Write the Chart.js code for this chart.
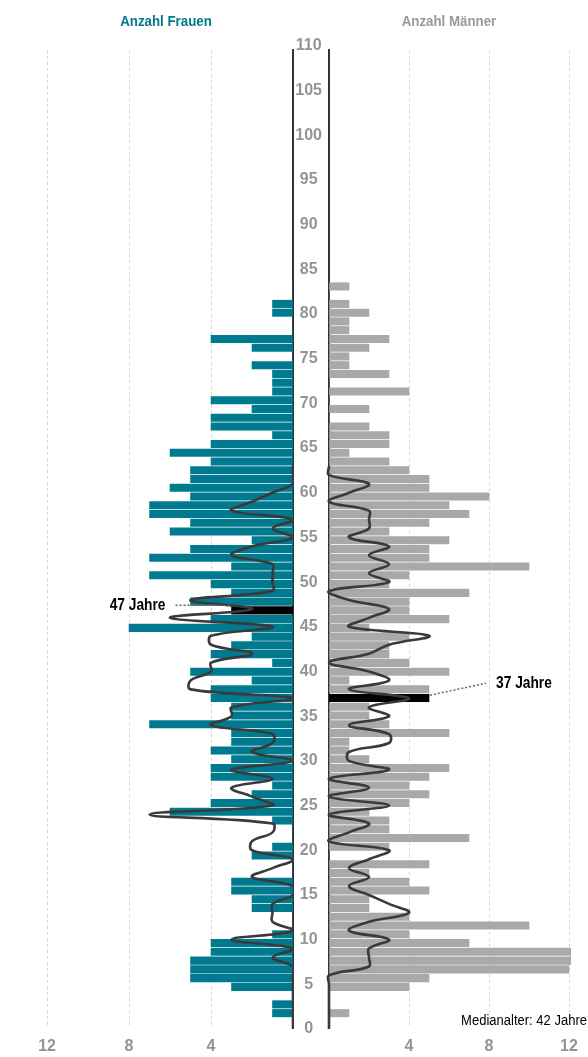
<!DOCTYPE html>
<html><head><meta charset="utf-8">
<script src="https://cdn.jsdelivr.net/npm/chart.js@4.4.1/dist/chart.umd.min.js"></script>
<style>
html,body{margin:0;padding:0;background:#fff;}
#wrap{position:relative;width:588px;height:1057px;overflow:hidden;}
#cl{position:absolute;left:0;top:0;}
#cr{position:absolute;left:293px;top:0;}
</style></head><body>
<div id="wrap"><canvas id="cl" width="294" height="1057" style="width:294px;height:1057px"></canvas><canvas id="cr" width="295" height="1057" style="width:295px;height:1057px"></canvas></div>
<script>
// ---- data ----
const ages = [0,1,2,3,4,5,6,7,8,9,10,11,12,13,14,15,16,17,18,19,20,21,22,23,24,25,26,27,28,29,30,31,32,33,34,35,36,37,38,39,40,41,42,43,44,45,46,47,48,49,50,51,52,53,54,55,56,57,58,59,60,61,62,63,64,65,66,67,68,69,70,71,72,73,74,75,76,77,78,79,80,81,82,83,84];
const women = [0,1,1,0,3,5,5,5,4,4,1,0,0,2,2,3,3,0,0,2,1,0,0,1,6,4,2,1,4,4,3,4,3,3,7,3,3,4,4,2,5,1,4,3,2,8,4,3,5,3,4,7,3,7,5,2,6,5,7,7,5,6,5,5,4,6,4,1,4,4,2,4,1,1,1,2,0,2,4,0,0,1,1,0,0];
const men   = [0,1,0,0,4,5,12,13,13,7,4,10,4,2,2,5,4,2,5,0,3,7,3,3,2,4,5,4,5,6,2,1,1,6,3,2,2,5,5,1,6,4,3,3,4,2,6,4,4,7,3,4,10,5,5,6,3,5,7,6,8,5,5,4,3,1,3,3,2,0,2,0,4,0,3,1,1,2,3,1,1,2,1,0,1];
const curveAges  = [0,1,2,3,4,5,6,7,8,9,10,11,12,13,14,15,16,17,18,19,20,21,22,23,24,25,26,27,28,29,30,31,32,33,34,35,36,37,38,39,40,41,42,43,44,45,46,47,48,49,50,51,52,53,54,55,56,57,58,59,60,61,62,63];
const womenCurve = [0,0,0,0,0,0,0,0,1,0,3,0,1,1,1,0,0,2,1,0,2,2,1,1,7,1,2,3,1,3,0,2,1,1,4,3,3,0,5,5,4,4,2,4,4,1,6,2,5,1,1,1,1,3,2,0,1,0,3,2,1,0,0,0];
const menCurve   = [0,0,0,0,0,0,0,2,2,2,3,1,2,4,3,2,1,2,1,2,3,0,1,2,0,3,0,2,0,3,1,1,3,3,1,3,2,4,1,3,2,0,2,3,5,1,2,3,1,0,3,2,3,2,3,1,2,2,2,0,1,2,0,0];
const ageTicks   = [0,5,10,15,20,25,30,35,40,45,50,55,60,65,70,75,80,85,90,95,100,105,110];
const countTicks = [0,4,8,12];
const medianWomen = 47, medianMen = 37, medianAll = 42;
const titleWomen = 'Anzahl Frauen', titleMen = 'Anzahl Männer';

// ---- style ----
const FONT = '"Liberation Sans", Arial, sans-serif';
const TEAL = '#007a8e', GREY = '#a9a9a9', LINE = '#3a3a3a', TICK = '#949494';
const TOP = 50, BOTTOM = 1027;          // plot area (px)
const barMin = -0.35, barMax = 109.92;  // band scale of the bars
const lblMin = 0.224, lblMax = 109.54;  // linear age scale (labels, curves)

function gridColor(ctx){ return (ctx.tick && ctx.tick.value === 0) ? 'rgba(0,0,0,0)' : '#d4d4d4'; }
function xScale(reverse, max){
  return {type:'linear', min:0, max:max, reverse:reverse, position:'bottom',
    afterBuildTicks: s => { s.ticks = countTicks.map(v => ({value:v})); },
    afterFit: s => { s.height = 1057 - BOTTOM; },
    ticks:{callback: v => v === 0 ? '' : String(v), color:TICK, font:{family:FONT, size:16, weight:'bold'}, padding:10, maxRotation:0, autoSkip:false},
    grid:{color:gridColor, lineWidth:1, drawTicks:false},
    border:{display:false, dash:[3,3]}};
}
function barAxis(pos){
  return {type:'linear', min:barMin, max:barMax, position:pos, display:true,
    afterBuildTicks: s => { s.ticks = ages.map(v => ({value:v})); },
    afterFit: s => { s.width = 0; },
    ticks:{display:false}, grid:{display:false, drawTicks:false}, border:{display:false}};
}
function lblAxis(show, pos){
  return {type:'linear', min:lblMin, max:lblMax, position:pos, display:true,
    afterBuildTicks: s => { s.ticks = ageTicks.map(v => ({value:v})); },
    afterFit: s => { s.width = show ? 36 : 0; },
    ticks:{display:show, crossAlign:'center', padding:7, color:TICK, font:{family:FONT, size:16, weight:'bold'}, autoSkip:false},
    grid:{display:false, drawTicks:false},
    border:{display:true, color:'#333', width:2}};
}

function narrowText(c, txt, x, y, align, font, sx){
  c.save();
  c.font = font; c.textAlign = align; c.textBaseline = 'middle';
  c.translate(x, y); c.scale(sx, 1);
  c.fillText(txt, 0, 0);
  c.restore();
}

const textPlugin = {
  id:'texts',
  afterDraw(chart){
    const c = chart.ctx, a = chart.chartArea, o = chart.options.plugins.texts;
    c.save();
    c.fillStyle = o.titleColor;
    narrowText(c, o.title, (a.left + a.right) / 2 + o.titleShift, 22, 'center', 'bold 14px ' + FONT, 0.95);
    const xs = chart.scales.x, ys = chart.scales.y;
    const yb = ys.getPixelForValue(o.median);
    const xb = xs.getPixelForValue(o.values[ages.indexOf(o.median)]);
    c.strokeStyle = '#666'; c.lineWidth = 1.5; c.setLineDash([2,2]);
    c.beginPath();
    c.fillStyle = '#000';
    if (o.side === 'left') {
      c.moveTo(xb - 2, yb - 1.5); c.lineTo(xb - 58, yb - 1.5);
      c.stroke(); c.setLineDash([]);
      narrowText(c, o.median + ' Jahre', xb - 66, yb - 1.5, 'right', 'bold 16px ' + FONT, 0.86);
    } else {
      c.moveTo(xb + 1, yb + 1); c.lineTo(xb + 57, yb - 11);
      c.stroke(); c.setLineDash([]);
      narrowText(c, o.median + ' Jahre', xb + 67, yb - 11, 'left', 'bold 16px ' + FONT, 0.86);
      narrowText(c, 'Medianalter: ' + medianAll + ' Jahre', chart.width - 1, 1021, 'right', '14px ' + FONT, 0.93);
    }
    c.restore();
  }
};

function makeChart(id, values, curve, colour, side, title, titleColor, median){
  const left = side === 'left';
  return new Chart(document.getElementById(id), {
    data:{datasets:[
      {type:'line', data: curveAges.map((g,i) => ({x:curve[i], y:g})), yAxisID:'yl', xAxisID:'x',
       borderColor:LINE, borderWidth:2.6, pointRadius:0, tension:0.4, order:0, clip:false, fill:false},
      {type:'bar', data: ages.map((g,i) => ({x:values[i], y:g})), yAxisID:'y', xAxisID:'x',
       backgroundColor: ages.map(g => g === median ? '#000' : colour), borderWidth:0,
       barThickness:7.4, order:1}
    ]},
    options:{
      responsive:false, animation:false, indexAxis:'y',
      elements:{line:{capBezierPoints:false}},
      layout:{padding: left ? {top:TOP, left:43, right:1, bottom:0} : {top:TOP, left:0, right:11, bottom:0}},
      plugins:{legend:{display:false}, tooltip:{enabled:false},
        texts:{title:title, titleColor:titleColor, titleShift: left ? -2 : -1, median:median, values:values, side:side}},
      scales:{
        x: xScale(left, left ? 12.2 : 12.1),
        y: barAxis(left ? 'right' : 'left'),
        yl: lblAxis(!left, left ? 'right' : 'left')
      }
    },
    plugins:[textPlugin]
  });
}
makeChart('cl', women, womenCurve, TEAL, 'left', titleWomen, TEAL, medianWomen);
makeChart('cr', men, menCurve, GREY, 'right', titleMen, '#999', medianMen);
</script>
</body></html>
